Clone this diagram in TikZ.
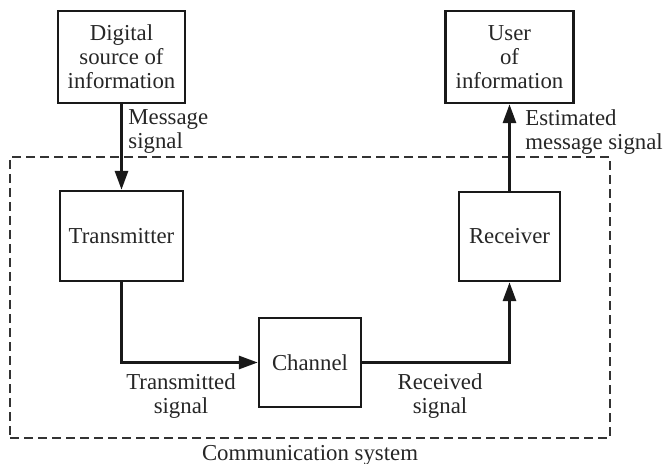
\documentclass[tikz,border=0pt]{standalone}
\usepackage{fontspec}
\setmainfont{Liberation Serif}
\usetikzlibrary{arrows.meta}
\begin{document}
\begin{tikzpicture}[x=0.5pt,y=-0.5pt,
  every node/.style={font=\fontsize{11.4pt}{12pt}\selectfont, text=black!85, inner sep=0pt},
  blk/.style={draw=black!90, line width=1.2pt, align=center},
  conn/.style={draw=black!90, line width=1.5pt, -{Triangle[length=9.5pt,width=6.5pt]}},
  sysbox/.style={draw=black!80, line width=0.7pt, dash pattern=on 4.5pt off 2.5pt},
  lbl/.style={align=center},
  lbll/.style={align=left}]
\useasboundingbox (0,0) rectangle (663,464);
\node[sysbox, minimum width=300pt, minimum height=140.5pt] (sys) at (310,297.5) {};
\node[blk, minimum width=63.5pt, minimum height=46pt] (src) at (121.5,57) {Digital\\source of\\information};
\node[blk, minimum width=61.5pt, minimum height=45pt] (tx) at (121.5,236) {Transmitter};
\node[blk, minimum width=51pt, minimum height=44.5pt] (ch) at (310,362.5) {Channel};
\node[blk, minimum width=50.5pt, minimum height=44.5pt] (rx) at (509.5,236.5) {Receiver};
\node[blk, minimum width=64pt, minimum height=46pt] (usr) at (509.5,57) {User\\of\\information};
\draw[conn] (src.south) -- (tx.north);
\draw[conn] (tx.south) |- (ch.west);
\draw[conn] (ch.east) -| (rx.south);
\draw[conn] (rx.north) -- (usr.south);
\node[lbll, anchor=north west] (msg) at (128,109) {Message\\signal};
\node[lbll, anchor=north west] (est) at (525,109) {Estimated\\message signal};
\node[lbl, anchor=north] (tsig) at (181,373) {Transmitted\\signal};
\node[lbl, anchor=north] (rsig) at (440,373) {Received\\signal};
\node[anchor=base] (sysl) at (310,460) {Communication system};
\end{tikzpicture}
\end{document}
